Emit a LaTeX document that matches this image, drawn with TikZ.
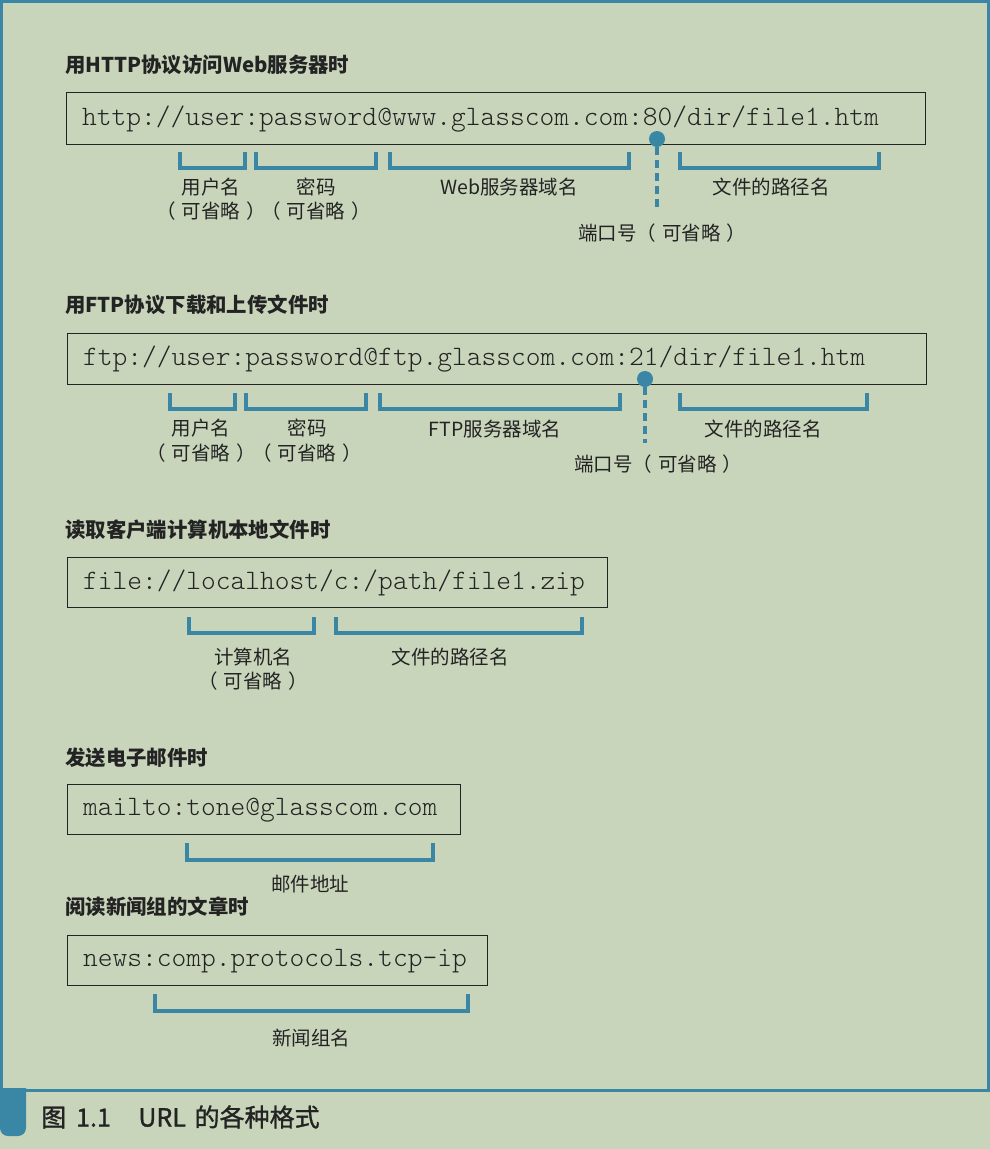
\documentclass[tikz,border=0pt]{standalone}
\usepackage{fontspec}
\setmainfont{Noto Sans CJK SC}
\newfontfamily\urlmono{lmmonolt10-regular.otf}
\newfontfamily\capfont[FakeBold=1.2]{Noto Sans CJK SC}

\definecolor{pagebg}{RGB}{200,213,187}
\definecolor{accent}{RGB}{58,134,165}
\definecolor{ink}{RGB}{35,35,35}

\tikzset{
  heading/.style={anchor=west, inner sep=0pt, text=ink, font=\fontsize{20.4}{24}\selectfont\bfseries},
  urlbox/.style={draw=ink, line width=1.3pt, anchor=north west, inner xsep=0pt, inner ysep=0pt},
  urltext/.style={anchor=west, inner sep=0pt, text=ink, font=\urlmono\fontsize{28.1}{32}\selectfont},
  brace/.style={draw=accent, line width=4pt},
  lbl/.style={inner sep=0pt, text=ink, font=\fontsize{19.5}{23}\selectfont},
  portdot/.style={circle, fill=accent, inner sep=0pt, minimum size=16pt},
  portline/.style={draw=accent, line width=3.5pt, dash pattern=on 8pt off 5pt},
  frame/.style={draw=accent, line width=3pt},
}

% open-topped bracket under a part of a URL: x1, x2, top, bottom
\newcommand\urlbrace[4]{\draw[brace] (#1,#3) -- (#1,#4) -- (#2,#4) -- (#2,#3);}
% URL in a frame: name, left, top, width, height, text
\newcommand\urlline[6]{%
  \node[urlbox, minimum width=#4pt, minimum height=#5pt] (#1) at (#2,#3) {};
  \node[urltext] (#1t) at ([xshift=16pt]#1.west) {#6};}
% "(may be omitted)" with loose full-width brackets
\newcommand\mayomit{（\hspace{0.3em}可省略\hspace{0.3em}）}

\begin{document}
\begin{tikzpicture}[x=1pt, y=-1pt]
  \fill[pagebg] (0,0) rectangle (990,1149);
  \useasboundingbox (0,0) rectangle (990,1149);

  % outer frame and caption tab
  \draw[frame] (1.5,1.5) rectangle (988.5,1090);
  \fill[accent] (0,1088) -- (26,1088) [rounded corners=8pt] -- (26,1136) -- (0,1136) [sharp corners] -- cycle;
  \node[anchor=west, inner sep=0pt, text=ink, font=\capfont\fontsize{25}{29}\selectfont]
    (cap) at (41,1117) {图\hspace{0.4em}1.1\hspace{1.1em}URL\hspace{0.35em}的各种格式};

  % ---- HTTP ----
  \node[heading] (h1) at (65,65) {用HTTP协议访问Web服务器时};
  \urlline{u1}{66}{92}{859}{52}{http://user:password@www.glasscom.com:80/dir/file1.htm}
  \urlbrace{180}{245}{152}{168}
  \urlbrace{256}{376}{152}{168}
  \urlbrace{390}{629}{152}{168}
  \urlbrace{680}{879}{152}{168}
  \node[lbl] (a1) at (211,187) {用户名};
  \node[lbl] (a2) at (211,211) {\mayomit};
  \node[lbl] (a3) at (316,187) {密码};
  \node[lbl] (a4) at (316,211) {\mayomit};
  \node[lbl] (a5) at (509,187) {Web服务器域名};
  \node[lbl] (a6) at (771,187) {文件的路径名};
  \node[lbl] (a7) at (662,233) {端口号\mayomit};
  \node[portdot] (p1) at (657,139) {};
  \coordinate (p1e) at (657,212);
  \draw[portline] (p1.south) -- (p1e);

  % ---- FTP ----
  \node[heading] (h2) at (65,305) {用FTP协议下载和上传文件时};
  \urlline{u2}{67}{333}{859}{51}{ftp://user:password@ftp.glasscom.com:21/dir/file1.htm}
  \urlbrace{170}{235}{393}{409}
  \urlbrace{246}{366}{393}{409}
  \urlbrace{380}{620}{393}{409}
  \urlbrace{680}{867}{393}{409}
  \node[lbl] (b1) at (201,428) {用户名};
  \node[lbl] (b2) at (201,453) {\mayomit};
  \node[lbl] (b3) at (307,428) {密码};
  \node[lbl] (b4) at (307,453) {\mayomit};
  \node[lbl] (b5) at (495,429) {FTP服务器域名};
  \node[lbl] (b6) at (763,429) {文件的路径名};
  \node[lbl] (b7) at (658,464) {端口号\mayomit};
  \node[portdot] (p2) at (645,379) {};
  \coordinate (p2e) at (645,443);
  \draw[portline] (p2.south) -- (p2e);

  % ---- local file ----
  \node[heading] (h3) at (65,530) {读取客户端计算机本地文件时};
  \urlline{u3}{67}{557}{540}{50}{file://localhost/c:/path/file1.zip}
  \urlbrace{189}{314}{617}{633}
  \urlbrace{336}{582}{617}{633}
  \node[lbl] (c1) at (253,657) {计算机名};
  \node[lbl] (c2) at (253,681) {\mayomit};
  \node[lbl] (c3) at (450,657) {文件的路径名};

  % ---- mail ----
  \node[heading] (h4) at (65,758) {发送电子邮件时};
  \urlline{u4}{67}{784}{393}{50}{mailto:tone@glasscom.com}
  \urlbrace{187}{433}{843}{860}
  \node[lbl] (d1) at (310,884) {邮件地址};

  % ---- news ----
  \node[heading] (h5) at (65,907) {阅读新闻组的文章时};
  \urlline{u5}{67}{935}{420}{50}{news:comp.protocols.tcp-ip}
  \urlbrace{155}{468}{994}{1011}
  \node[lbl] (e1) at (311,1038) {新闻组名};
\end{tikzpicture}
\end{document}
